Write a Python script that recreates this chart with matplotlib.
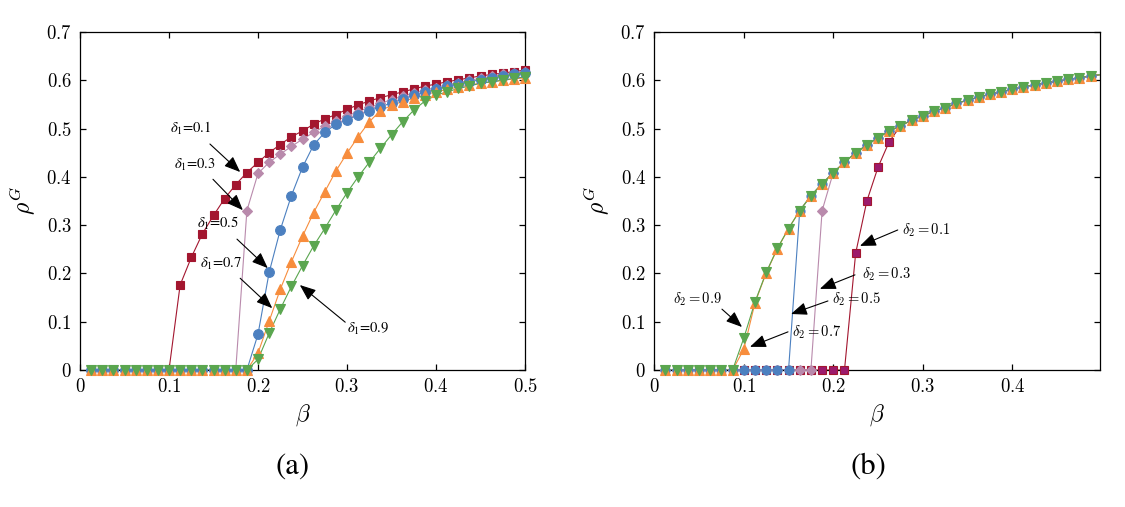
import matplotlib
matplotlib.use("Agg")
import matplotlib.pyplot as plt

plt.rcParams['mathtext.fontset'] = 'cm'
plt.rcParams['font.family'] = ['STIXGeneral', 'DejaVu Serif']

beta = [0.0125, 0.025, 0.0375, 0.05, 0.0625, 0.075, 0.0875, 0.1, 0.1125, 0.125,
        0.1375, 0.15, 0.1625, 0.175, 0.1875, 0.2, 0.2125, 0.225, 0.2375, 0.25,
        0.2625, 0.275, 0.2875, 0.3, 0.3125, 0.325, 0.3375, 0.35, 0.3625, 0.375,
        0.3875, 0.4, 0.4125, 0.425, 0.4375, 0.45, 0.4625, 0.475, 0.4875, 0.5]

# Panel (a): delta_1 series
a_d01 = [0, 0, 0, 0, 0, 0, 0, 0, 0.176, 0.233, 0.282, 0.320, 0.355, 0.384, 0.409, 0.430,
         0.450, 0.467, 0.483, 0.495, 0.509, 0.520, 0.529, 0.540, 0.549, 0.557, 0.564, 0.570,
         0.576, 0.582, 0.588, 0.592, 0.597, 0.601, 0.605, 0.609, 0.612, 0.615, 0.618, 0.621]
a_d03 = [0, 0, 0, 0, 0, 0, 0, 0, 0, 0, 0, 0, 0, 0, 0.330, 0.407, 0.430, 0.447, 0.463, 0.478,
         0.492, 0.505, 0.516, 0.526, 0.535, 0.544, 0.552, 0.560, 0.567, 0.574, 0.580, 0.585,
         0.591, 0.595, 0.600, 0.604, 0.608, 0.612, 0.615, 0.618]
a_d05 = [0, 0, 0, 0, 0, 0, 0, 0, 0, 0, 0, 0, 0, 0, 0, 0.074, 0.202, 0.290, 0.361, 0.420,
         0.466, 0.492, 0.509, 0.518, 0.528, 0.537, 0.545, 0.553, 0.561, 0.569, 0.576, 0.582,
         0.588, 0.593, 0.597, 0.601, 0.605, 0.609, 0.612, 0.615]
a_d07 = [0, 0, 0, 0, 0, 0, 0, 0, 0, 0, 0, 0, 0, 0, 0, 0.035, 0.101, 0.167, 0.224, 0.277,
         0.326, 0.369, 0.412, 0.449, 0.483, 0.514, 0.537, 0.548, 0.556, 0.563, 0.570, 0.576,
         0.581, 0.586, 0.590, 0.594, 0.597, 0.600, 0.603, 0.605]
a_d09 = [0, 0, 0, 0, 0, 0, 0, 0, 0, 0, 0, 0, 0, 0, 0, 0.022, 0.076, 0.126, 0.173, 0.216,
         0.257, 0.293, 0.331, 0.367, 0.400, 0.430, 0.459, 0.487, 0.514, 0.538, 0.557, 0.569,
         0.576, 0.583, 0.588, 0.594, 0.597, 0.600, 0.604, 0.607]

# Panel (b): delta_2 series
b_d01 = [0, 0, 0, 0, 0, 0, 0, 0, 0, 0, 0, 0, 0, 0, 0, 0, 0, 0.242, 0.350, 0.420,
         0.473, 0.505, 0.518, 0.526, 0.536, 0.543, 0.552, 0.559, 0.565, 0.571, 0.576, 0.581,
         0.587, 0.590, 0.595, 0.598, 0.602, 0.605, 0.609, 0.612]
b_d03 = [0, 0, 0, 0, 0, 0, 0, 0, 0, 0, 0, 0, 0, 0, 0.330, 0.409, 0.430, 0.450, 0.466, 0.481,
         0.495, 0.505, 0.518, 0.526, 0.536, 0.543, 0.552, 0.559, 0.565, 0.571, 0.576, 0.581,
         0.587, 0.590, 0.595, 0.598, 0.602, 0.605, 0.609, 0.612]
b_d05 = [0, 0, 0, 0, 0, 0, 0, 0, 0, 0, 0, 0, 0.330, 0.361, 0.386, 0.409, 0.430, 0.450, 0.466, 0.481,
         0.495, 0.505, 0.518, 0.526, 0.536, 0.543, 0.552, 0.559, 0.565, 0.571, 0.576, 0.581,
         0.587, 0.590, 0.595, 0.598, 0.602, 0.605, 0.609, 0.612]
b_d07 = [0, 0, 0, 0, 0, 0, 0, 0.043, 0.139, 0.201, 0.251, 0.293, 0.330, 0.361, 0.386, 0.409,
         0.430, 0.450, 0.466, 0.481, 0.495, 0.505, 0.518, 0.526, 0.536, 0.543, 0.552, 0.559,
         0.565, 0.571, 0.576, 0.581, 0.587, 0.590, 0.595, 0.598, 0.602, 0.605, 0.609, 0.612]
b_d09 = [0, 0, 0, 0, 0, 0, 0, 0.066, 0.141, 0.202, 0.252, 0.293, 0.330, 0.361, 0.386, 0.409,
         0.430, 0.450, 0.466, 0.481, 0.495, 0.505, 0.518, 0.526, 0.536, 0.543, 0.552, 0.559,
         0.565, 0.571, 0.576, 0.581, 0.587, 0.590, 0.595, 0.598, 0.602, 0.605, 0.609, 0.612]

RED = '#a3162f'
MAG = '#9c1a6c'
PINK = '#b98aac'
BLUE = '#4c80c0'
ORANGE = '#f78d3d'
GREEN = '#5aa64f'

fig = plt.figure(figsize=(11.25, 5.07), dpi=100)
axA = fig.add_axes([80 / 1125, 137 / 507, 445 / 1125, 338 / 507])
axB = fig.add_axes([654.3 / 1125, 137 / 507, 445.7 / 1125, 338 / 507])


def style(ax, xmax, xticks):
    ax.set_xlim(0, xmax)
    ax.set_ylim(0, 0.7)
    ax.set_xticks(xticks)
    ax.set_xticklabels([r'$%g$' % v for v in xticks])
    yt = [0, 0.1, 0.2, 0.3, 0.4, 0.5, 0.6, 0.7]
    ax.set_yticks(yt)
    ax.set_yticklabels([r'$%g$' % v for v in yt])
    ax.tick_params(direction='in', top=True, right=True, length=4, width=0.9,
                   labelsize=13.5, pad=6)
    for s in ax.spines.values():
        s.set_linewidth(0.9)
    ax.set_xlabel(r'$\beta$', fontsize=17, labelpad=4)
    ax.set_ylabel(r'$\rho^G$', fontsize=17, labelpad=6)


def series(ax, x, y, marker, ms, color, face, nmark):
    # connecting line (clipped to the axes)
    ax.plot(x, y, '-', color=color, lw=0.8, zorder=3)
    # markers, not clipped so that points at rho = 0 show whole
    ax.plot(x[:nmark], y[:nmark], linestyle='none', marker=marker, ms=ms,
            mec=color, mfc=face, mew=0.8, clip_on=False, zorder=4)


# Panel (a)
n = len(beta)
series(axA, beta, a_d01, 's', 6, RED, RED, n)
series(axA, beta, a_d03, 'D', 5.5, PINK, PINK, n)
series(axA, beta, a_d05, 'o', 7, BLUE, BLUE, n)
series(axA, beta, a_d07, '^', 7.5, ORANGE, ORANGE, n)
series(axA, beta, a_d09, 'v', 7.5, GREEN, GREEN, n)
style(axA, 0.5, [0, 0.1, 0.2, 0.3, 0.4, 0.5])

arrow = dict(arrowstyle='-|>,head_length=0.7,head_width=0.28', color='k', lw=0.8,
             mutation_scale=14, shrinkA=0, shrinkB=0)

a_labels = [r'$\delta_1$=0.1', r'$\delta_1$=0.3', r'$\delta_1$=0.5', r'$\delta_1$=0.7', r'$\delta_1$=0.9']
a_text = [(0.1242, 0.500), (0.1287, 0.425), (0.1545, 0.303), (0.158, 0.220), (0.3236, 0.086)]
a_tail = [(0.146, 0.468), (0.1494, 0.395), (0.1764, 0.271), (0.180, 0.190), (0.298, 0.099)]
a_tip = [(0.180, 0.410), (0.183, 0.331), (0.211, 0.211), (0.216, 0.128), (0.247, 0.176)]
for lab, t, tl, tp in zip(a_labels, a_text, a_tail, a_tip):
    axA.text(t[0], t[1], lab, fontsize=10.5, ha='center', va='center',
             family='STIXGeneral', math_fontfamily='stix', zorder=6)
    axA.annotate('', xy=tp, xytext=tl, arrowprops=arrow, zorder=6)

# Panel (b): the point at beta = 0.5 lies past the right edge and is cut off
nb = n - 1
series(axB, beta, b_d01, 's', 5.5, RED, MAG, nb)
series(axB, beta, b_d03, 'D', 5, PINK, PINK, nb)
series(axB, beta, b_d05, 'o', 6.5, BLUE, BLUE, nb)
series(axB, beta, b_d07, '^', 7, ORANGE, ORANGE, nb)
series(axB, beta, b_d09, 'v', 7, GREEN, GREEN, nb)
style(axB, 0.498, [0, 0.1, 0.2, 0.3, 0.4])

b_labels = [r'$\delta_2 = 0.1$', r'$\delta_2 = 0.3$', r'$\delta_2 = 0.5$', r'$\delta_2 = 0.7$', r'$\delta_2 = 0.9$']
b_text = [(0.304, 0.290), (0.2594, 0.199), (0.226, 0.147), (0.181, 0.079), (0.0483, 0.147)]
b_tail = [(0.272, 0.290), (0.2242, 0.197), (0.194, 0.143), (0.1494, 0.079), (0.0756, 0.126)]
b_tip = [(0.2298, 0.257), (0.185, 0.168), (0.1527, 0.116), (0.1069, 0.048), (0.0980, 0.089)]
for lab, t, tl, tp in zip(b_labels, b_text, b_tail, b_tip):
    axB.text(t[0], t[1], lab, fontsize=10.5, ha='center', va='center', zorder=6)
    axB.annotate('', xy=tp, xytext=tl, arrowprops=arrow, zorder=6)

fig.text(293 / 1125, 1 - 467 / 507, '(a)', fontsize=22, ha='center', va='center',
         family='STIXGeneral')
fig.text(868 / 1125, 1 - 467 / 507, '(b)', fontsize=22, ha='center', va='center',
         family='STIXGeneral')

fig.savefig('out.png', dpi=100)
